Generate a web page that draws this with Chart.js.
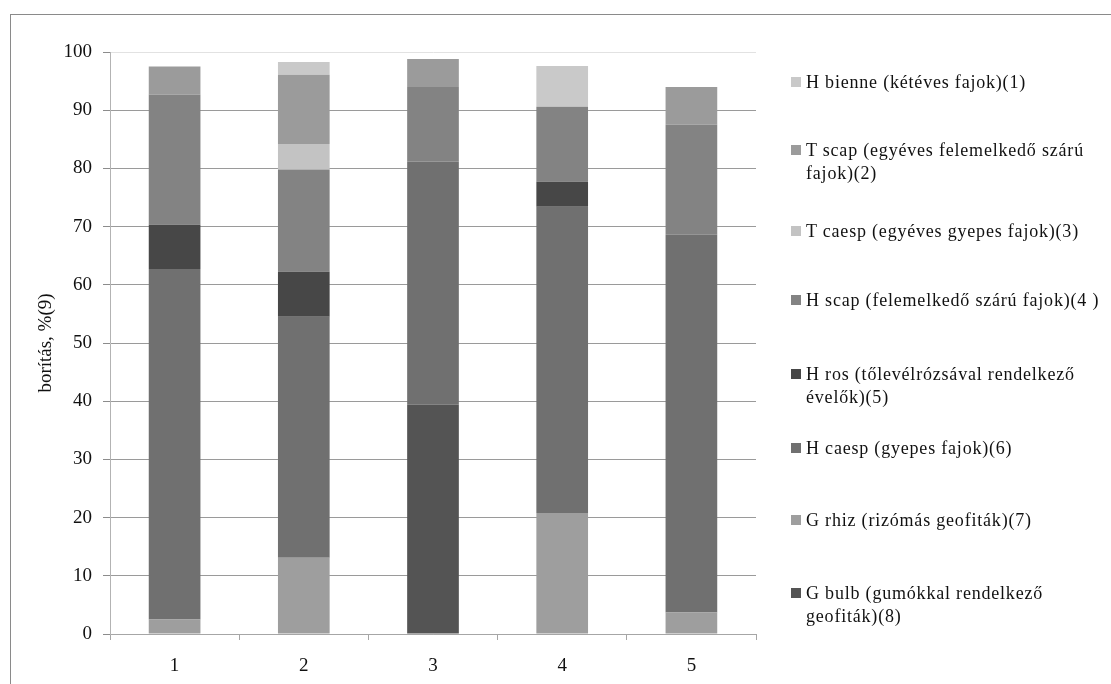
<!DOCTYPE html>
<html>
<head>
<meta charset="utf-8">
<script src="https://cdn.jsdelivr.net/npm/chart.js@4/dist/chart.umd.min.js"></script>
<style>
  html, body { margin: 0; padding: 0; background: #fff; overflow: hidden; }
  #wrap { position: relative; width: 1111px; height: 684px; overflow: hidden; }
  #frame { position: absolute; left: 10px; top: 14px; width: 1200px; height: 800px;
           border: 1px solid #8a8a8a; box-sizing: border-box; }
  #chart { position: absolute; left: 0; top: 0; }
  #legend { position: absolute; left: 0; top: 0; width: 1111px; height: 684px; pointer-events: none; }
  .item { position: absolute; left: 791px; display: flex; align-items: flex-start;
          font-family: "Liberation Serif", "Times New Roman", serif; font-size: 18px;
          letter-spacing: 0.8px; line-height: 23px; color: #111; }
  .box { width: 10px; height: 10px; margin-top: 6px; margin-right: 5px; flex: none; }
  .txt { width: 305px; }
</style>
</head>
<body>
<div id="wrap">
  <div id="frame"></div>
  <canvas id="chart" width="1111" height="684"></canvas>
  <div id="legend"></div>
</div>
<script>
// Sampling sites
const categories = ['1', '2', '3', '4', '5'];

// Life-form cover (%) per site, stacked from bottom to top (null = absent)
const gBulb   = [null, null,  39.4, null, null];
const gRhiz   = [2.5,  13.1,  null, 20.8, 3.7];
const hCaesp  = [60.2, 41.4,  41.8, 52.6, 64.9];
const hRos    = [7.6,  7.75,  null, 4.3,  null];
const hScap   = [22.4, 17.55, 12.8, 12.9, 18.9];
const tCaesp  = [null, 4.4,   null, null, null];
const tScap   = [4.8,  11.9,  4.8,  null, 6.5];
const hBienne = [null, 2.2,   null, 7.0,  null];

const seriesNames = [
  'G bulb (gumókkal rendelkező geofiták)(8)',
  'G rhiz (rizómás geofiták)(7)',
  'H caesp (gyepes fajok)(6)',
  'H ros (tőlevélrózsával rendelkező évelők)(5)',
  'H scap (felemelkedő szárú fajok)(4 )',
  'T caesp (egyéves gyepes fajok)(3)',
  'T scap (egyéves felemelkedő szárú fajok)(2)',
  'H bienne (kétéves fajok)(1)'
];
const seriesValues = [gBulb, gRhiz, hCaesp, hRos, hScap, tCaesp, tScap, hBienne];
const seriesColors = ['#545454', '#9e9e9e', '#707070', '#474747', '#838383', '#c3c3c3', '#9b9b9b', '#c9c9c9'];

const yTitle = 'borítás, %(9)';
const yTicks = { min: 0, max: 100, step: 10 };

const datasets = seriesNames.map((name, i) => ({
  label: name,
  data: seriesValues[i],
  backgroundColor: seriesColors[i],
  borderWidth: 0,
  barPercentage: 0.40,
  categoryPercentage: 1.0
}));

const tickFont = { family: '"Liberation Serif", "Times New Roman", serif', size: 19 };

const chart = new Chart(document.getElementById('chart'), {
  type: 'bar',
  data: { labels: categories, datasets },
  options: {
    responsive: false,
    animation: false,
    devicePixelRatio: 1,
    layout: { padding: { left: 0, right: 355, top: 52, bottom: 0 } },
    plugins: { legend: { display: false }, tooltip: { enabled: false } },
    scales: {
      x: {
        stacked: true,
        afterFit: (s) => { s.height = 50; },
        grid: { offset: true, drawOnChartArea: false, drawTicks: true, tickLength: 6, color: '#a6a6a6' },
        border: { color: '#a6a6a6' },
        ticks: { font: tickFont, color: '#111', padding: 15 }
      },
      y: {
        stacked: true,
        min: yTicks.min,
        max: yTicks.max,
        afterFit: (s) => { s.width = 110; },
        grid: {
          color: (c) => (c.tick && c.tick.value === yTicks.max) ? '#e2e2e2' : '#9a9a9a',
          tickColor: '#8c8c8c',
          tickLength: 7
        },
        border: { color: '#b3b3b3' },
        ticks: { stepSize: yTicks.step, font: tickFont, color: '#111', padding: 11 },
        title: {
          display: true,
          text: yTitle,
          font: tickFont,
          color: '#111',
          padding: { top: 35, bottom: 0 }
        }
      }
    }
  }
});

// Legend entries, listed top to bottom in reverse stacking order
const legendCenters = [82, 150, 231, 300, 374, 448, 520, 593];
const legendEl = document.getElementById('legend');
chart.data.datasets.slice().reverse().forEach((ds, i) => {
  const item = document.createElement('div');
  item.className = 'item';
  item.style.top = (legendCenters[i] - 11.5) + 'px';
  const box = document.createElement('div');
  box.className = 'box';
  box.style.background = ds.backgroundColor;
  const txt = document.createElement('div');
  txt.className = 'txt';
  txt.textContent = ds.label;
  item.appendChild(box);
  item.appendChild(txt);
  legendEl.appendChild(item);
});
</script>
</body>
</html>
